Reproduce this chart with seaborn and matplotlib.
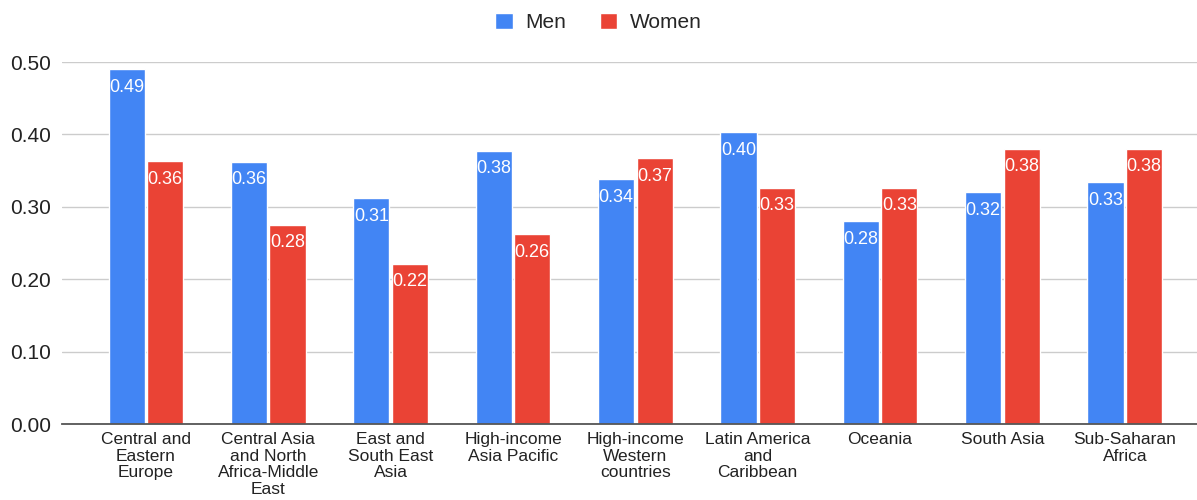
import pandas as pd
import numpy as np
import matplotlib.pyplot as plt
import seaborn as sns

# data
regions = ["Central and Eastern Europe", "Central Asia and North Africa-Middle East",
           "East and South East Asia", "High-income Asia Pacific",
           "High-income Western countries", "Latin America and Caribbean",
           "Oceania", "South Asia", "Sub-Saharan Africa"]
tick_labels = ["Central and\nEastern\nEurope", "Central Asia\nand North\nAfrica-Middle\nEast",
               "East and\nSouth East\nAsia", "High-income\nAsia Pacific",
               "High-income\nWestern\ncountries", "Latin America\nand\nCaribbean",
               "Oceania", "South Asia", "Sub-Saharan\nAfrica"]
men = [0.490, 0.362, 0.312, 0.377, 0.338, 0.403, 0.280, 0.320, 0.334]
women = [0.363, 0.275, 0.221, 0.262, 0.367, 0.326, 0.326, 0.380, 0.380]

df = pd.DataFrame({
    "Region": regions * 2,
    "Value": men + women,
    "Sex": ["Men"] * len(men) + ["Women"] * len(women),
})

sns.set_style("white")
plt.rcParams["font.family"] = ["Liberation Sans", "DejaVu Sans"]

fig = plt.figure(figsize=(11.97, 5), dpi=100)
ax = fig.add_axes([62 / 1197, 76 / 500, 1135 / 1197, 362 / 500])

sns.barplot(data=df, x="Region", y="Value", hue="Sex", order=regions,
            palette={"Men": "#4285F4", "Women": "#EA4335"}, saturation=1,
            width=0.63, gap=0.06, errorbar=None, ax=ax, zorder=3)

for cont, vals in zip(ax.containers, [men, women]):
    ax.bar_label(cont, labels=[f"{v:.2f}" for v in vals], padding=-19,
                 color="white", fontsize=13)

ax.set_ylim(0, 0.5)
ax.set_xlim(-0.686, 8.59)
ax.set_yticks(np.arange(0, 0.51, 0.1))
ax.set_yticklabels([f"{v:.2f}" for v in np.arange(0, 0.51, 0.1)], fontsize=15, color="#222222")
ax.set_xticks(range(len(regions)))
ax.set_xticklabels(tick_labels, fontsize=12.5, color="#222222", linespacing=1.13)
ax.tick_params(axis="both", length=0)
ax.tick_params(axis="x", pad=6)
ax.tick_params(axis="y", pad=8)
ax.set_xlabel("")
ax.set_ylabel("")
ax.yaxis.grid(True, color="#cccccc", linewidth=1, zorder=0)
for s in ["top", "right", "left"]:
    ax.spines[s].set_visible(False)
ax.spines["bottom"].set_color("#555555")
ax.spines["bottom"].set_linewidth(1.3)
ax.spines["bottom"].set_zorder(4)

handles, labels = ax.get_legend_handles_labels()
ax.get_legend().remove()
fig.legend(handles, labels, loc="center", bbox_to_anchor=(0.5, 0.955), ncol=2,
           frameon=False, fontsize=15, handlelength=0.85, handleheight=0.85,
           columnspacing=1.6, handletextpad=0.6)

fig.savefig("out.png", dpi=100)
